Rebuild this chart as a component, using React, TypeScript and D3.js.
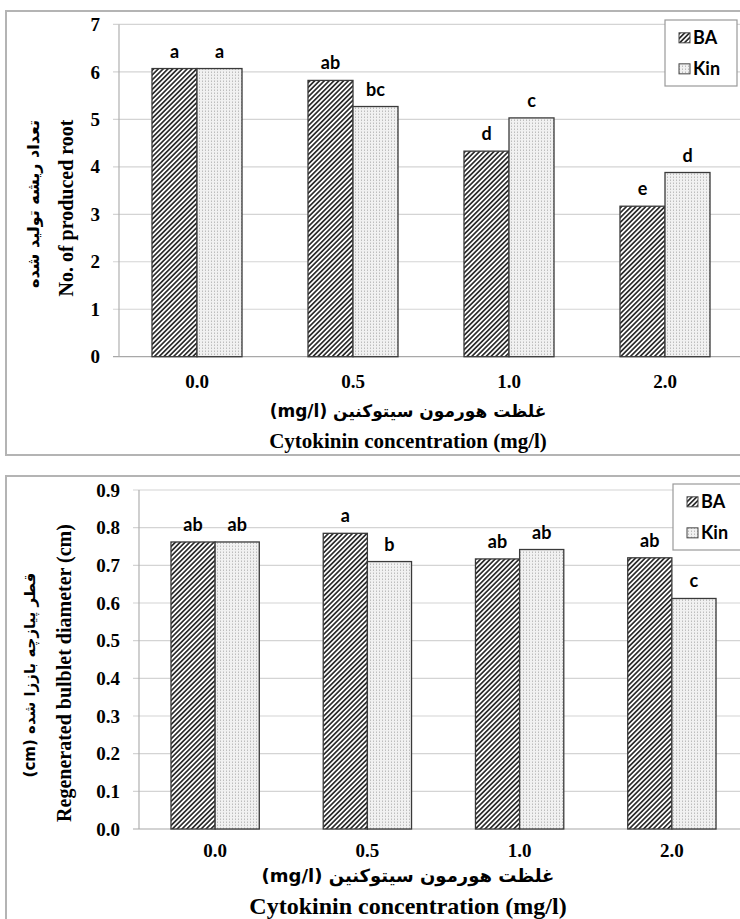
import * as d3 from 'd3';

// data
const categories = ['0.0', '0.5', '1.0', '2.0'];
const seriesNames = ['BA', 'Kin'];

const rootBA = [6.07, 5.82, 4.33, 3.17];
const rootKin = [6.07, 5.27, 5.03, 3.88];
const rootLettersBA = ['a', 'ab', 'd', 'e'];
const rootLettersKin = ['a', 'bc', 'c', 'd'];
const rootTicks = [0, 1, 2, 3, 4, 5, 6, 7];

const diamBA = [0.762, 0.785, 0.717, 0.72];
const diamKin = [0.762, 0.71, 0.742, 0.612];
const diamLettersBA = ['ab', 'a', 'ab', 'ab'];
const diamLettersKin = ['ab', 'b', 'ab', 'c'];
const diamTicks = [0, 0.1, 0.2, 0.3, 0.4, 0.5, 0.6, 0.7, 0.8, 0.9];

const serif = '"Liberation Serif", "Times New Roman", serif';
const sans = 'Lato, "Liberation Sans", sans-serif';
const arabic = '"DejaVu Sans", sans-serif';

interface PanelProps {
  box: { x: number; y: number; w: number; h: number };
  plot: { left: number; right: number; top: number; bottom: number };
  domainMax: number;
  ticks: number[];
  tickFmt: (v: number) => string;
  ba: number[];
  kin: number[];
  lettersBA: string[];
  lettersKin: string[];
  padding: number;
  legend: { x: number; y: number; w: number; h: number };
  yTitleFa: string;
  yTitleEn: string;
  yTitleX: [number, number];
  yTitleY: [number, number];
  yFaSize: number;
  xTickY: number;
  xTitleY: [number, number];
  xTitleSize: number;
  xFaSize: number;
  tickSize: number;
}

const Panel = (p: PanelProps) => {
  const { plot } = p;
  const x0 = d3.scaleBand<string>()
    .domain(categories)
    .range([plot.left, plot.right])
    .paddingInner(p.padding)
    .paddingOuter(p.padding / 2);
  const x1 = d3.scaleBand<string>()
    .domain(seriesNames)
    .range([0, x0.bandwidth()]);
  const y = d3.scaleLinear()
    .domain([0, p.domainMax])
    .range([plot.bottom, plot.top]);

  const rows = categories.map((c, i) => ({
    c,
    vals: [
      { s: 'BA', v: p.ba[i], l: p.lettersBA[i] },
      { s: 'Kin', v: p.kin[i], l: p.lettersKin[i] },
    ],
  }));
  const midX = 408;

  return (
    <g>
      <rect x={p.box.x} y={p.box.y} width={p.box.w} height={p.box.h}
        fill="#fff" stroke="#b4b4b4" strokeWidth={2} />

      {p.ticks.map(t => (
        <g key={t}>
          <line x1={plot.left - 6} x2={plot.right} y1={y(t)} y2={y(t)}
            stroke={t === 0 ? '#a8a8a8' : '#d4d4d4'} strokeWidth={1.2} />
          <text x={plot.left - 19} y={y(t)} dy="0.35em" textAnchor="end"
            fontFamily={serif} fontWeight="bold" fontSize={p.tickSize}>{p.tickFmt(t)}</text>
        </g>
      ))}
      <line x1={plot.left} x2={plot.left} y1={plot.top} y2={plot.bottom} stroke="#b0b0b0" strokeWidth={1.2} />

      {rows.map(r => (
        <g key={r.c}>
          {r.vals.map(d => {
            const bx = (x0(r.c) ?? 0) + (x1(d.s) ?? 0);
            return (
              <g key={d.s}>
                <rect x={bx} y={y(d.v)} width={x1.bandwidth()} height={y(0) - y(d.v)}
                  fill={d.s === 'BA' ? 'url(#hatchBA)' : 'url(#dotsKin)'}
                  stroke="#3a3a3a" strokeWidth={1.3} />
                <text x={bx + x1.bandwidth() / 2} y={y(d.v) - 11} textAnchor="middle"
                  fontFamily={sans} fontWeight="bold" fontSize={18}>{d.l}</text>
              </g>
            );
          })}
          <text x={(x0(r.c) ?? 0) + x0.bandwidth() / 2} y={p.xTickY} dy="0.35em" textAnchor="middle"
            fontFamily={serif} fontWeight="bold" fontSize={p.tickSize}>{r.c}</text>
        </g>
      ))}

      <text x={midX} y={p.xTitleY[0]} dy="0.35em" textAnchor="middle"
        fontFamily={arabic} fontWeight="bold" fontSize={p.xFaSize}>(mg/l) غلظت هورمون سیتوکنین</text>
      <text x={midX} y={p.xTitleY[1]} dy="0.35em" textAnchor="middle"
        fontFamily={serif} fontWeight="bold" fontSize={p.xTitleSize}>Cytokinin concentration (mg/l)</text>

      <text transform={`translate(${p.yTitleX[0]},${p.yTitleY[0]}) rotate(-90)`} dy="0.35em" textAnchor="middle"
        fontFamily={arabic} fontWeight="bold" fontSize={p.yFaSize}>{p.yTitleFa}</text>
      <text transform={`translate(${p.yTitleX[1]},${p.yTitleY[1]}) rotate(-90)`} dy="0.35em" textAnchor="middle"
        fontFamily={serif} fontWeight="bold" fontSize={20}>{p.yTitleEn}</text>

      <rect x={p.legend.x} y={p.legend.y} width={p.legend.w} height={p.legend.h}
        fill="#fff" stroke="#9a9a9a" strokeWidth={1.2} />
      {seriesNames.map((s, i) => {
        const ly = p.legend.y + p.legend.h * (i === 0 ? 0.27 : 0.74);
        return (
          <g key={s}>
            <rect x={p.legend.x + 14} y={ly - 5} width={11} height={10}
              fill={s === 'BA' ? 'url(#hatchBA)' : 'url(#dotsKin)'} stroke="#444" strokeWidth={1} />
            <text x={p.legend.x + 28} y={ly} dy="0.36em"
              fontFamily={sans} fontWeight="bold" fontSize={18}>{s}</text>
          </g>
        );
      })}
    </g>
  );
};

export default function App() {
  return (
    <svg width={740} height={919} style={{ position: 'absolute', left: 0, top: 0, background: '#fff' }}>
      <defs>
        <pattern id="hatchBA" patternUnits="userSpaceOnUse" width={3.4} height={3.4}
          patternTransform="rotate(45)">
          <rect width={3.4} height={3.4} fill="#fff" />
          <rect width={1.7} height={3.4} fill="#2e2e2e" />
        </pattern>
        <pattern id="dotsKin" patternUnits="userSpaceOnUse" width={3} height={3}>
          <rect width={3} height={3} fill="#f1f1f1" />
          <rect x={1} y={0} width={1} height={1} fill="#bdbdbd" />
          <rect x={1} y={2} width={1} height={1} fill="#d6d6d6" />
        </pattern>
      </defs>

      <Panel
        box={{ x: 6, y: 11, w: 745, h: 444 }}
        plot={{ left: 119, right: 743, top: 24.4, bottom: 356.7 }}
        domainMax={7}
        ticks={rootTicks}
        tickFmt={d3.format('d')}
        ba={rootBA}
        kin={rootKin}
        lettersBA={rootLettersBA}
        lettersKin={rootLettersKin}
        padding={0.423}
        legend={{ x: 665, y: 20, w: 72, h: 66 }}
        yTitleFa="تعداد ریشه تولید شده"
        yTitleEn="No. of produced root"
        yTitleX={[33, 66]}
        yTitleY={[204, 208]}
        yFaSize={16}
        xTickY={381}
        xTitleY={[411, 441]}
        xTitleSize={21}
        xFaSize={17}
        tickSize={19}
      />

      <Panel
        box={{ x: 6, y: 476, w: 745, h: 460 }}
        plot={{ left: 139, right: 748, top: 490, bottom: 829 }}
        domainMax={0.9}
        ticks={diamTicks}
        tickFmt={d3.format('.1f')}
        ba={diamBA}
        kin={diamKin}
        lettersBA={diamLettersBA}
        lettersKin={diamLettersKin}
        padding={0.42}
        legend={{ x: 673, y: 484, w: 72, h: 66 }}
        yTitleFa="(cm) قطر پیازچه باززا شده"
        yTitleEn="Regenerated bulblet diameter (cm)"
        yTitleX={[30, 64]}
        yTitleY={[675, 673]}
        yFaSize={15}
        xTickY={850}
        xTitleY={[876, 906]}
        xTitleSize={24}
        xFaSize={18}
        tickSize={19}
      />
    </svg>
  );
}
